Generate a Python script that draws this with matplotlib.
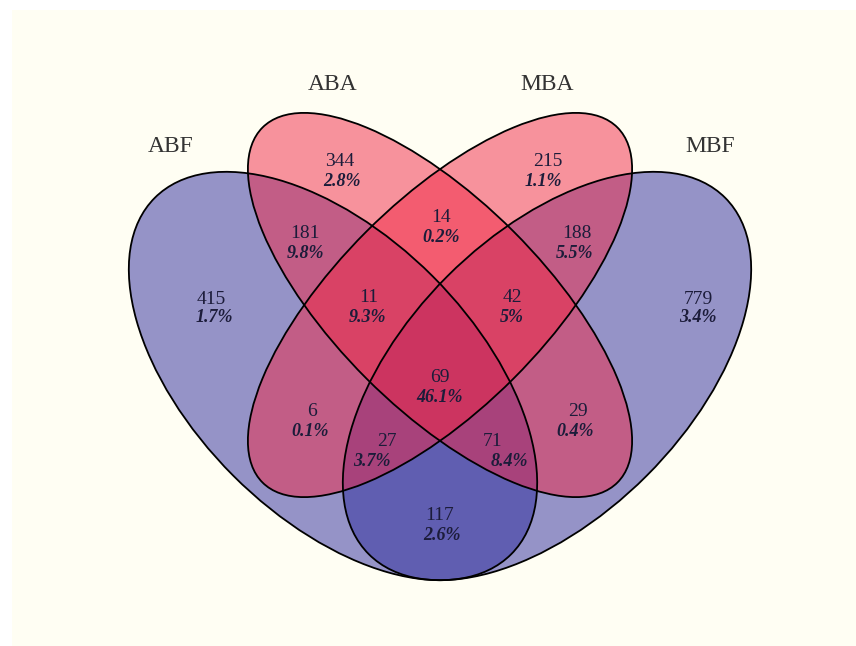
import matplotlib.pyplot as plt
from matplotlib.patches import Ellipse, Rectangle

# set names and region values (order: ABF, ABA, MBA, MBF)
set_names = ['ABF', 'ABA', 'MBA', 'MBF']
region_counts = [415, 344, 215, 779, 181, 14, 188, 11, 42, 69, 6, 29, 27, 71, 117]
region_pcts = ['1.7%', '2.8%', '1.1%', '3.4%', '9.8%', '0.2%', '5.5%', '9.3%',
               '5%', '46.1%', '0.1%', '0.4%', '3.7%', '8.4%', '2.6%']

# layout (pixel space of the 856x646 canvas, y down)
count_pos = [(211, 299), (340, 162), (548, 162), (698, 299), (305, 233), (441, 218),
             (577, 233), (369, 298), (512, 298), (440, 378), (312, 412), (578, 412),
             (387, 441), (493, 441), (440, 515)]
pct_pos = [(214, 318), (342, 182), (543, 182), (698, 318), (305, 253), (441, 238),
           (575, 253), (367, 318), (512, 318), (440, 397), (310, 432), (575, 432),
           (372, 461), (509, 461), (442, 535)]
label_pos = [(171, 147), (333, 85), (547, 85), (710, 147)]

# ellipse shapes: centre x, centre y, semi-major, semi-minor, angle
shapes = {
    'ABF': (333, 376, 252, 141, 45),
    'ABA': (440, 305, 251, 104, 45),
    'MBA': (440, 305, 251, 104, -45),
    'MBF': (547, 376, 252, 141, -45),
}
fills = {'ABF': '#2d2a9c', 'MBF': '#2d2a9c', 'ABA': '#f02846', 'MBA': '#f02846'}

fig = plt.figure(figsize=(8.56, 6.46), dpi=100, facecolor='white')
ax = fig.add_axes([0, 0, 1, 1])
ax.set_xlim(0, 856)
ax.set_ylim(646, 0)
ax.axis('off')

ax.add_patch(Rectangle((12, 10), 850, 640, facecolor='#fffef3', edgecolor='none', zorder=0))

# blues first, then reds
for name in ['ABF', 'MBF', 'ABA', 'MBA']:
    cx, cy, a, b, ang = shapes[name]
    ax.add_patch(Ellipse((cx, cy), 2 * a, 2 * b, angle=ang, facecolor=fills[name],
                         alpha=0.5, edgecolor='none', zorder=1))
for name in set_names:
    cx, cy, a, b, ang = shapes[name]
    ax.add_patch(Ellipse((cx, cy), 2 * a, 2 * b, angle=ang, fill=False,
                         edgecolor='black', linewidth=1.3, zorder=2))

serif = ['Liberation Serif', 'DejaVu Serif']
for n, (x, y) in zip(set_names, label_pos):
    ax.text(x, y, n, ha='center', va='center', fontsize=17, family=serif,
            color='#333333', zorder=3)

for c, p, (x1, y1), (x2, y2) in zip(region_counts, region_pcts, count_pos, pct_pos):
    ax.text(x1, y1, str(c), ha='center', va='center', fontsize=14, family=serif,
            color='#1c1c3a', zorder=3)
    ax.text(x2, y2, p, ha='center', va='center', fontsize=13, family=serif,
            style='italic', weight='bold', color='#1c1c3a', zorder=3)

fig.savefig('out.png', dpi=100, facecolor='white')
